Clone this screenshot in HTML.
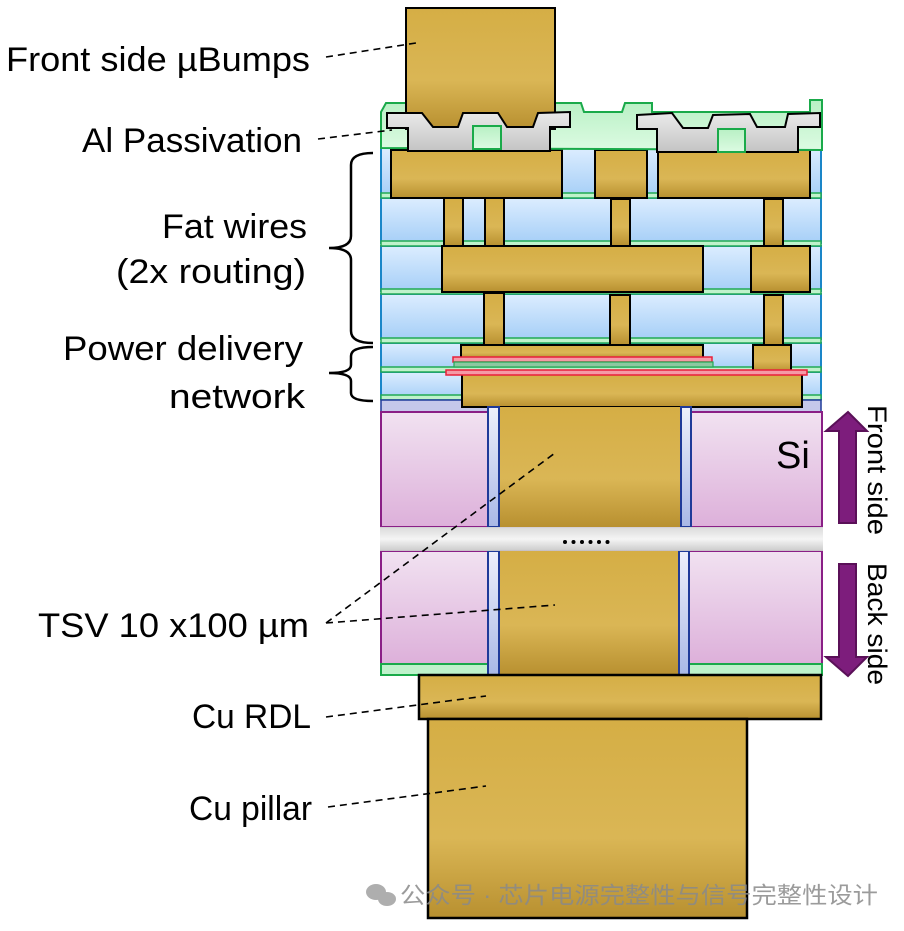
<!DOCTYPE html>
<html><head><meta charset="utf-8"><style>
html,body{margin:0;padding:0;background:#fff;width:904px;height:931px;overflow:hidden}
svg{display:block}
text{font-family:"Liberation Sans","Noto Sans CJK SC",sans-serif;fill:#000}
</style></head><body>
<svg width="904" height="931" viewBox="0 0 904 931" xmlns="http://www.w3.org/2000/svg">
<defs>
<linearGradient id="au" x1="0" y1="0" x2="0" y2="1">
<stop offset="0" stop-color="#d5ae45"/><stop offset="0.6" stop-color="#dab655"/><stop offset="1" stop-color="#b89030"/></linearGradient>
<linearGradient id="bl" x1="0" y1="0" x2="0" y2="1">
<stop offset="0" stop-color="#dcedff"/><stop offset="1" stop-color="#a6cff7"/></linearGradient>
<linearGradient id="gr" x1="0" y1="0" x2="0" y2="1">
<stop offset="0" stop-color="#b8f0c4"/><stop offset="1" stop-color="#dcfbe2"/></linearGradient>
<linearGradient id="gy" x1="0" y1="0" x2="0" y2="1">
<stop offset="0" stop-color="#eaeaea"/><stop offset="1" stop-color="#c4c4c4"/></linearGradient>
<linearGradient id="pk" x1="0" y1="0" x2="0" y2="1">
<stop offset="0" stop-color="#f1e2f1"/><stop offset="1" stop-color="#ddb0da"/></linearGradient>
<linearGradient id="ln" x1="0" y1="0" x2="0" y2="1">
<stop offset="0" stop-color="#eef0fb"/><stop offset="1" stop-color="#a9b8e6"/></linearGradient>
<linearGradient id="band" x1="0" y1="0" x2="0" y2="1">
<stop offset="0" stop-color="#d8d8d8"/><stop offset="0.5" stop-color="#f4f4f4"/><stop offset="1" stop-color="#c8c8c8"/></linearGradient>
</defs>

<g stroke="#1a86c8" stroke-width="2" fill="url(#bl)">
<rect x="381" y="148" width="440" height="48"/>
<rect x="381" y="198" width="440" height="45"/>
<rect x="381" y="246" width="440" height="45"/>
<rect x="381" y="294" width="440" height="45"/>
<rect x="381" y="343" width="440" height="27"/>
<rect x="381" y="372" width="440" height="27"/>
</g>
<g fill="#bff2cb" stroke="#22aa55" stroke-width="1.5">
<rect x="381" y="193" width="440" height="5"/>
<rect x="381" y="241" width="440" height="5"/>
<rect x="381" y="289" width="440" height="5"/>
<rect x="381" y="338" width="440" height="5"/>
<rect x="381" y="367" width="440" height="5"/>
<rect x="381" y="395" width="440" height="5"/>
</g>
<rect x="381" y="400" width="440" height="12" fill="#c5c8ea" stroke="#1f3a99" stroke-width="1.5"/>

<g fill="url(#au)" stroke="#000" stroke-width="2">
<rect x="391" y="150" width="171" height="48"/>
<rect x="595" y="150" width="52" height="48"/>
<rect x="658" y="150" width="152" height="48"/>
<rect x="444" y="198" width="19" height="48"/>
<rect x="485" y="198" width="19" height="48"/>
<rect x="611" y="199" width="19" height="47"/>
<rect x="764" y="199" width="19" height="47"/>
<rect x="442" y="246" width="261" height="46"/>
<rect x="751" y="246" width="59" height="46"/>
<rect x="484" y="293" width="20" height="52"/>
<rect x="610" y="295" width="20" height="50"/>
<rect x="764" y="295" width="19" height="50"/>
<rect x="461" y="345" width="242" height="13"/>
<rect x="753" y="345" width="38" height="27"/>
<rect x="462" y="374" width="340" height="33"/>
</g>
<rect x="453" y="357" width="259" height="5" fill="#f59aa6" stroke="#e8203a" stroke-width="1.5"/>
<rect x="454" y="362" width="259" height="5" fill="#8cc9a0" stroke="#22aa55" stroke-width="1.2"/>
<rect x="446" y="370" width="361" height="5" fill="#f59aa6" stroke="#e8203a" stroke-width="1.5"/>

<path d="M381,148 L381,112 L386,103 L414,103 L414,112 L548,112 L548,103 L581,103 L584,112 L622,112 L625,103 L652,103 L652,112 L810,112 L810,100 L822,100 L822,150 Z" fill="url(#gr)" stroke="#1aaa4a" stroke-width="2"/>
<rect x="406" y="8" width="149" height="121" fill="url(#au)" stroke="#000" stroke-width="2"/>
<path d="M387,113 L422,113 L433,127 L458,127 L463,113 L498,113 L507,127 L533,127 L538,113 L570,112 L570,127 L550,127 L550,151 L408,151 L408,128 L387,128 Z" fill="url(#gy)" stroke="#000" stroke-width="2"/>
<path d="M637,115 L672,113 L683,128 L708,128 L713,115 L750,114 L757,127 L785,127 L788,114 L820,113 L820,127 L798,127 L798,152 L657,152 L657,129 L637,129 Z" fill="url(#gy)" stroke="#000" stroke-width="2"/>
<rect x="473" y="126" width="28" height="23" fill="url(#gr)" stroke="#1aaa4a" stroke-width="2"/>
<rect x="718" y="129" width="27" height="23" fill="url(#gr)" stroke="#1aaa4a" stroke-width="2"/>

<rect x="381" y="412" width="441" height="115" fill="url(#pk)" stroke="#8a1f86" stroke-width="2"/>
<rect x="381" y="551" width="441" height="113" fill="url(#pk)" stroke="#8a1f86" stroke-width="2"/>
<rect x="381" y="664" width="441" height="11" fill="#bff2cb" stroke="#1aaa4a" stroke-width="2"/>
<rect x="499" y="407" width="182" height="120" fill="url(#au)"/>
<rect x="499" y="551" width="182" height="124" fill="url(#au)"/>
<g fill="url(#ln)" stroke="#1f3a99" stroke-width="2">
<rect x="488" y="407" width="11" height="120"/><rect x="681" y="407" width="10" height="120"/>
<rect x="488" y="551" width="11" height="124"/><rect x="679" y="551" width="10" height="124"/>
</g>
<rect x="380" y="527" width="443" height="24" fill="url(#band)" opacity="0.95"/>
<g fill="#000"><circle cx="565" cy="542" r="2"/><circle cx="573.5" cy="542" r="2"/><circle cx="582" cy="542" r="2"/><circle cx="590.5" cy="542" r="2"/><circle cx="599" cy="542" r="2"/><circle cx="607.5" cy="542" r="2"/></g>
<text x="776" y="468" font-size="38">Si</text>

<rect x="419" y="675" width="402" height="44" fill="url(#au)" stroke="#000" stroke-width="2.5"/>
<rect x="428" y="719" width="319" height="199" fill="url(#au)" stroke="#000" stroke-width="2.5"/>

<path d="M839,523 L839,431 L826,431 L848,412 L867,431 L856,431 L856,523 Z" fill="#7d1d7c" stroke="#5a1058" stroke-width="2"/>
<path d="M839,564 L839,657 L826,657 L848,676 L867,657 L856,657 L856,564 Z" fill="#7d1d7c" stroke="#5a1058" stroke-width="2"/>
<text transform="translate(868,405) rotate(90)" font-size="27" textLength="130" lengthAdjust="spacingAndGlyphs">Front side</text>
<text transform="translate(868,563) rotate(90)" font-size="27" textLength="122" lengthAdjust="spacingAndGlyphs">Back side</text>

<g stroke="#000" stroke-width="1.6" stroke-dasharray="7,5" fill="none">
<line x1="326" y1="57" x2="416" y2="43"/>
<line x1="318" y1="139" x2="392" y2="130"/>
<line x1="326" y1="623" x2="555" y2="453"/>
<line x1="326" y1="623" x2="555" y2="605"/>
<line x1="326" y1="717" x2="486" y2="696"/>
<line x1="328" y1="807" x2="486" y2="786"/>
</g>
<g stroke="#000" stroke-width="2.5" fill="none">
<path d="M373,153 Q351,153 351,165 L351,236 Q351,248 329,248 Q351,248 351,260 L351,331 Q351,343 373,343"/>
<path d="M373,347 Q351,347 351,356 L351,365 Q351,373 329,373 Q351,373 351,381 L351,393 Q351,401 373,401"/>
</g>

<g font-size="34">
<text x="6" y="71" textLength="304" lengthAdjust="spacingAndGlyphs">Front side µBumps</text>
<text x="82" y="152" textLength="220" lengthAdjust="spacingAndGlyphs">Al Passivation</text>
<text x="162" y="238" textLength="145" lengthAdjust="spacingAndGlyphs">Fat wires</text>
<text x="116" y="283" textLength="190" lengthAdjust="spacingAndGlyphs">(2x routing)</text>
<text x="63" y="360" textLength="240" lengthAdjust="spacingAndGlyphs">Power delivery</text>
<text x="169" y="408" textLength="136" lengthAdjust="spacingAndGlyphs">network</text>
<text x="38" y="637" textLength="271" lengthAdjust="spacingAndGlyphs">TSV 10 x100 µm</text>
<text x="192" y="728" textLength="119" lengthAdjust="spacingAndGlyphs">Cu RDL</text>
<text x="189" y="820" textLength="123" lengthAdjust="spacingAndGlyphs">Cu pillar</text>
</g>

<g fill="#9a9a9a" opacity="0.8">
<ellipse cx="376" cy="892" rx="10" ry="8"/><ellipse cx="387" cy="899" rx="9" ry="7"/>
</g>
<text x="400" y="903" font-size="23" style="fill:#8a8a8a;opacity:0.85" textLength="478" lengthAdjust="spacingAndGlyphs">公众号 · 芯片电源完整性与信号完整性设计</text>
</svg>
</body></html>
